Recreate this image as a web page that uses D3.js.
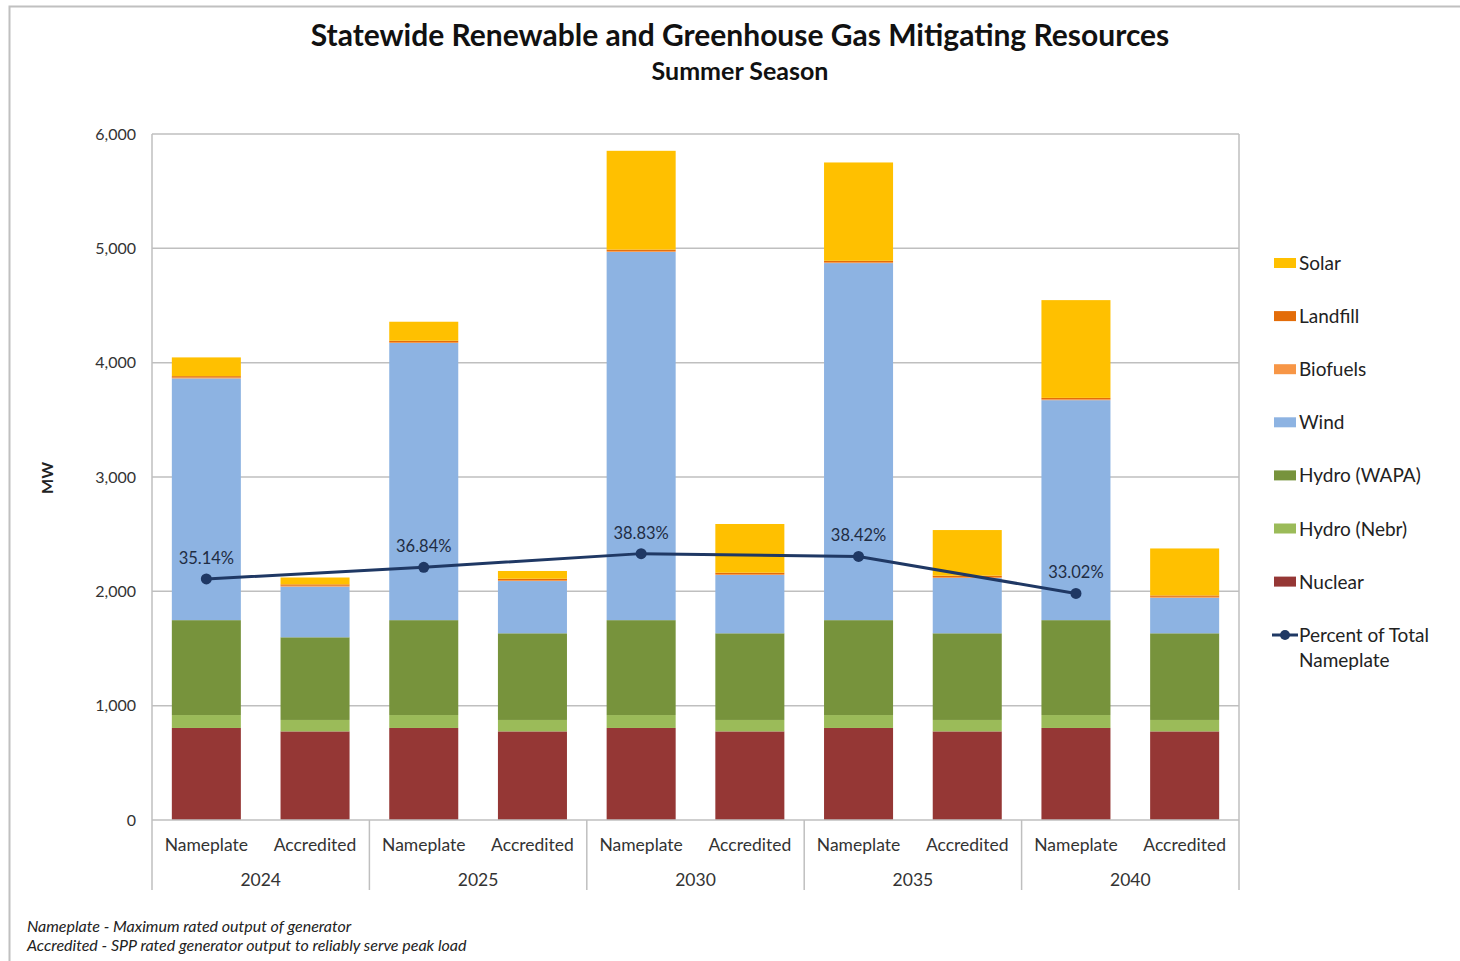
<!DOCTYPE html>
<html><head><meta charset="utf-8">
<script src="https://cdn.jsdelivr.net/npm/d3@7"></script>
<style>
body{margin:0;background:#fff;}
text{font-family:Lato,"Open Sans",sans-serif;}
</style></head>
<body>
<svg id="chart" width="1460" height="961"></svg>
<script>
// ---- data ----
const years = ["2024","2025","2030","2035","2040"];
const types = ["Nameplate","Accredited"];
const seriesNames = ["Nuclear","Hydro (Nebr)","Hydro (WAPA)","Wind","Biofuels","Landfill","Solar"];
// values in order: 2024N,2024A,2025N,2025A,2030N,2030A,2035N,2035A,2040N,2040A
const nuclear    = [805,775,805,775,805,775,805,775,805,775];
const hydroNebr  = [113,100,113,100,113,100,113,100,113,100];
const hydroWAPA  = [830,723,830,758,830,758,830,758,830,758];
const wind       = [2114,443,2424,457,3221,510,3123,484,1924,311];
const biofuels   = [8,8,8,8,8,8,8,8,8,8];
const landfill   = [12,12,12,12,12,12,12,12,12,12];
const solar      = [164,60,166,68,864,426,860,399,855,411];
const pctNameplate = [0.3514,0.3684,0.3883,0.3842,0.3302];
const yTicks = [0,1000,2000,3000,4000,5000,6000];

const colors = {"Solar":"#ffc000","Landfill":"#e36c09","Biofuels":"#f79646","Wind":"#8db3e2",
  "Hydro (WAPA)":"#77933c","Hydro (Nebr)":"#9bbb59","Nuclear":"#953735"};
const seriesVals = {"Nuclear":nuclear,"Hydro (Nebr)":hydroNebr,"Hydro (WAPA)":hydroWAPA,"Wind":wind,
  "Biofuels":biofuels,"Landfill":landfill,"Solar":solar};

const svg = d3.select("#chart");
const L=152, R=1239, T=134, B=820;
const cats = [];
years.forEach(y=>types.forEach(t=>cats.push(y+"|"+t)));
const rows = cats.map((c,i)=>{const o={cat:c}; seriesNames.forEach(s=>o[s]=seriesVals[s][i]); return o;});

const x = d3.scaleBand().domain(cats).range([L,R]).paddingInner(0.365).paddingOuter(0.1825);
const y = d3.scaleLinear().domain([0,6000]).range([B,T]);
// secondary axis (hidden): 0..100% spans the same height as 0..6000 MW
const yPct = d3.scaleLinear().domain([0,1]).range([y(0), y(6000)]);

// outer border
svg.append("path").attr("d","M9.5,961 V6.5 H1460").attr("fill","none").attr("stroke","#c0c0c0").attr("stroke-width",2);

// gridlines
svg.append("g").selectAll("line").data(yTicks.filter(d=>d>0)).join("line")
  .attr("x1",L).attr("x2",R).attr("y1",d=>y(d)).attr("y2",d=>y(d))
  .attr("stroke","#bfbfbf").attr("stroke-width",1.5);

// bars
const stack = d3.stack().keys(seriesNames)(rows);
svg.append("g").selectAll("g").data(stack).join("g").attr("fill",d=>colors[d.key])
  .selectAll("rect").data(d=>d).join("rect")
  .attr("x",d=>x(d.data.cat)).attr("width",x.bandwidth())
  .attr("y",d=>y(d[1])).attr("height",d=>y(d[0])-y(d[1]));

// plot frame
svg.append("line").attr("x1",L).attr("x2",L).attr("y1",T).attr("y2",890).attr("stroke","#bfbfbf").attr("stroke-width",1.5);
svg.append("line").attr("x1",R).attr("x2",R).attr("y1",T).attr("y2",890).attr("stroke","#bfbfbf").attr("stroke-width",1.5);
svg.append("line").attr("x1",L).attr("x2",R).attr("y1",B).attr("y2",B).attr("stroke","#bfbfbf").attr("stroke-width",1.5);
const groupW = (R-L)/years.length;
svg.append("g").selectAll("line").data(d3.range(1,years.length)).join("line")
  .attr("x1",d=>L+d*groupW).attr("x2",d=>L+d*groupW).attr("y1",B).attr("y2",890)
  .attr("stroke","#bfbfbf").attr("stroke-width",1.5);

// y axis labels
const yAxis = d3.axisLeft(y).tickValues(yTicks).tickFormat(d3.format(",")).tickSize(0).tickPadding(16);
const ga = svg.append("g").attr("transform",`translate(${L},0)`).call(yAxis);
ga.select(".domain").remove();
ga.selectAll("text").attr("font-size",16).attr("fill","#333").style("font-family","Lato,'Open Sans',sans-serif");

svg.append("text").attr("transform","translate(53,478) rotate(-90)").attr("text-anchor","middle")
  .attr("font-size",16).attr("font-weight","bold").attr("fill","#222").text("MW");

// x labels
svg.append("g").selectAll("text").data(cats).join("text")
  .attr("x",d=>x(d)+x.bandwidth()/2).attr("y",851).attr("text-anchor","middle")
  .attr("font-size",17.5).attr("fill","#333").text(d=>d.split("|")[1]);
svg.append("g").selectAll("text").data(years).join("text")
  .attr("x",(d,i)=>L+groupW*(i+0.5)).attr("y",886).attr("text-anchor","middle")
  .attr("font-size",17.5).attr("fill","#333").text(d=>d);

// percent line
const pts = years.map((yr,i)=>({x:x(yr+"|Nameplate")+x.bandwidth()/2, v:pctNameplate[i]}));
svg.append("path").datum(pts).attr("fill","none").attr("stroke","#1f3864").attr("stroke-width",3)
  .attr("d",d3.line().x(d=>d.x).y(d=>yPct(d.v)));
svg.append("g").selectAll("circle").data(pts).join("circle")
  .attr("cx",d=>d.x).attr("cy",d=>yPct(d.v)).attr("r",5.5).attr("fill","#1f3864");
svg.append("g").selectAll("text").data(pts).join("text")
  .attr("x",d=>d.x).attr("y",d=>yPct(d.v)-15).attr("text-anchor","middle")
  .attr("font-size",16.5).attr("fill","#1f2d44").text(d=>d3.format(".2%")(d.v));

// title
svg.append("text").attr("x",740).attr("y",46).attr("text-anchor","middle").attr("font-size",30)
  .attr("font-weight","bold").attr("fill","#111").text("Statewide Renewable and Greenhouse Gas Mitigating Resources");
svg.append("text").attr("x",740).attr("y",80).attr("text-anchor","middle").attr("font-size",25)
  .attr("font-weight","bold").attr("fill","#111").text("Summer Season");

// legend
const legendItems = ["Solar","Landfill","Biofuels","Wind","Hydro (WAPA)","Hydro (Nebr)","Nuclear"];
const lg = svg.append("g");
legendItems.forEach((s,i)=>{
  const cy = 263 + i*53.1;
  lg.append("rect").attr("x",1274).attr("y",cy-5).attr("width",22).attr("height",10).attr("fill",colors[s]);
  lg.append("text").attr("x",1299).attr("y",cy+7).attr("font-size",19).attr("fill","#222").text(s);
});
const ly = 635;
lg.append("line").attr("x1",1272).attr("x2",1298).attr("y1",ly).attr("y2",ly).attr("stroke","#1f3864").attr("stroke-width",3);
lg.append("circle").attr("cx",1285).attr("cy",ly).attr("r",5).attr("fill","#1f3864");
lg.append("text").attr("x",1299).attr("y",ly+7).attr("font-size",19).attr("fill","#222").text("Percent of Total");
lg.append("text").attr("x",1299).attr("y",ly+32).attr("font-size",19).attr("fill","#222").text("Nameplate");

// footnotes
svg.append("text").attr("x",27).attr("y",932).attr("font-size",16).attr("font-style","italic").attr("fill","#222")
  .text("Nameplate - Maximum rated output of generator");
svg.append("text").attr("x",27).attr("y",951).attr("font-size",16).attr("font-style","italic").attr("fill","#222")
  .text("Accredited - SPP rated generator output to reliably serve peak load");
</script>
</body></html>
